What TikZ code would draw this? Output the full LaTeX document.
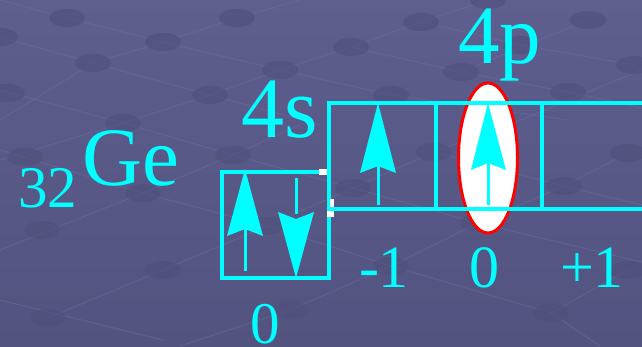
\documentclass[tikz,border=0pt]{standalone}
\usepackage{fontspec}
\usetikzlibrary{shapes.geometric}
\setmainfont{Liberation Serif}
\definecolor{bgtop}{HTML}{5E5E8F}
\definecolor{bgbot}{HTML}{535380}
\definecolor{gridline}{HTML}{6C6C9E}
\definecolor{gridknot}{HTML}{4F4F7C}
\definecolor{orb}{HTML}{00FFFF}
\tikzset{
  orbline/.style={draw=orb, line width=3.2pt},
  spin/.style={fill=orb},
  knot/.style={fill=gridknot, opacity=0.6},
  lattice/.style={draw=gridline, line width=1pt, opacity=0.5},
  label/.style={text=orb, inner sep=0pt, anchor=base},
  handle/.style={fill=white},
}
% big text in a given size
\newcommand\sz[1]{\fontsize{#1}{#1}\selectfont}
\begin{document}
\begin{tikzpicture}[x=1pt,y=-1pt]
  % background
  \shade[top color=bgtop, bottom color=bgbot] (0,0) rectangle (642,346);
  \useasboundingbox (0,0) rectangle (642,346);

  % faint perspective lattice behind everything
  \draw[lattice] (0,0) -- (67,18) -- (163,42) -- (280,70) -- (391,95) -- (568,120);
  \draw[lattice] (0,37) -- (93,63) -- (210,95) -- (320,125);
  \draw[lattice] (0,90) -- (123,123) -- (233,155) -- (353,188) -- (478,223) -- (642,262);
  \draw[lattice] (0,150) -- (143,193) -- (267,226) -- (391,266) -- (551,313) -- (600,346);
  \draw[lattice] (0,300) -- (163,340);
  \draw[lattice] (351,47) -- (461,72) -- (568,92) -- (642,108);
  \draw[lattice] (421,22) -- (521,45) -- (634,65);
  \draw[lattice] (434,152) -- (564,186) -- (642,205);
  \draw[lattice] (0,120) -- (93,63) -- (163,42) -- (237,18) -- (300,0);
  \draw[lattice] (0,160) -- (123,123) -- (210,95) -- (280,70) -- (351,47) -- (421,22) -- (488,0);
  \draw[lattice] (0,250) -- (143,193) -- (233,155) -- (300,125);
  \draw[lattice] (48,318) -- (163,270) -- (267,226) -- (353,188) -- (434,152) -- (521,120) -- (588,92) -- (642,70);
  \draw[lattice] (180,346) -- (290,310) -- (391,266) -- (478,223) -- (564,186) -- (628,153);
  \draw[lattice] (461,72) -- (588,20);
  \draw[lattice] (551,313) -- (628,270);

  % lattice knots
  \foreach \p in {(67,18),(237,18),(163,42),(0,37),(93,63),(280,70),(7,93),
                  (210,95),(123,123),(25,157),(233,155),(488,0),(421,22),
                  (588,20),(351,47),(461,72),(521,45),(634,65),(391,95),
                  (568,92),(434,152),(628,153),(143,193),(42,230),(163,270),
                  (290,310),(48,318),(267,226),(353,188),(564,186),(391,266),
                  (478,223),(628,270),(551,313)}
    \fill[knot] \p ellipse [x radius=18, y radius=9];

  % element symbol
  \node[label, anchor=base west] (z) at (18,207) {\sz{59}32};
  \node[label, anchor=base west] (ge) at (82,185) {\sz{83}Ge};

  % 4s cell
  \node[label, anchor=base west] (s) at (241,137) {\sz{86}4s};
  \draw[orbline] (222,172) rectangle (329,278);
  \node[label] (ms) at (265.5,343) {\sz{59}0};

  % 4p cells: the highlighted one first, box lines over it
  \node[draw=red, line width=3pt, fill=white, ellipse, minimum width=59pt,
        minimum height=150pt, inner sep=0pt] (hl) at (488,158) {};
  \draw[orbline] (660,103) -- (329,103) -- (329,209) -- (660,209);
  \draw[orbline] (436,103) -- (436,209);
  \draw[orbline] (542,103) -- (542,209);
  \node[label, anchor=base west] (p) at (458,63) {\sz{83}4p};
  \node[label] (m1) at (384,287) {\sz{60}-1};
  \node[label] (m0) at (484,287) {\sz{60}0};
  \node[label] (m2) at (592,287) {\sz{60}+1};

  % electron spins
  % up and down pair in 4s
  \fill[spin] (243.5,228) rectangle (246.5,271);
  \fill[spin] (245,169) -- (263,236) -- (245,229) -- (227,236) -- cycle;
  \fill[spin] (294.5,178) rectangle (297.5,214);
  \fill[spin] (296,278) -- (314,212) -- (296,219) -- (278,212) -- cycle;
  % single up spins in 4p
  \fill[spin] (376.5,165) rectangle (379.5,205);
  \fill[spin] (378,103) -- (396,173) -- (378,166) -- (360,173) -- cycle;
  \fill[spin] (486.5,162) rectangle (489.5,205);
  \fill[spin] (488,103) -- (506,170) -- (488,163) -- (471,170) -- cycle;

  % small white handles at the cell joint
  \fill[handle] (319,169) rectangle (327,175);
  \fill[handle] (330,199) rectangle (334,207);
  \fill[handle] (327,211) rectangle (334,217);
\end{tikzpicture}
\end{document}
